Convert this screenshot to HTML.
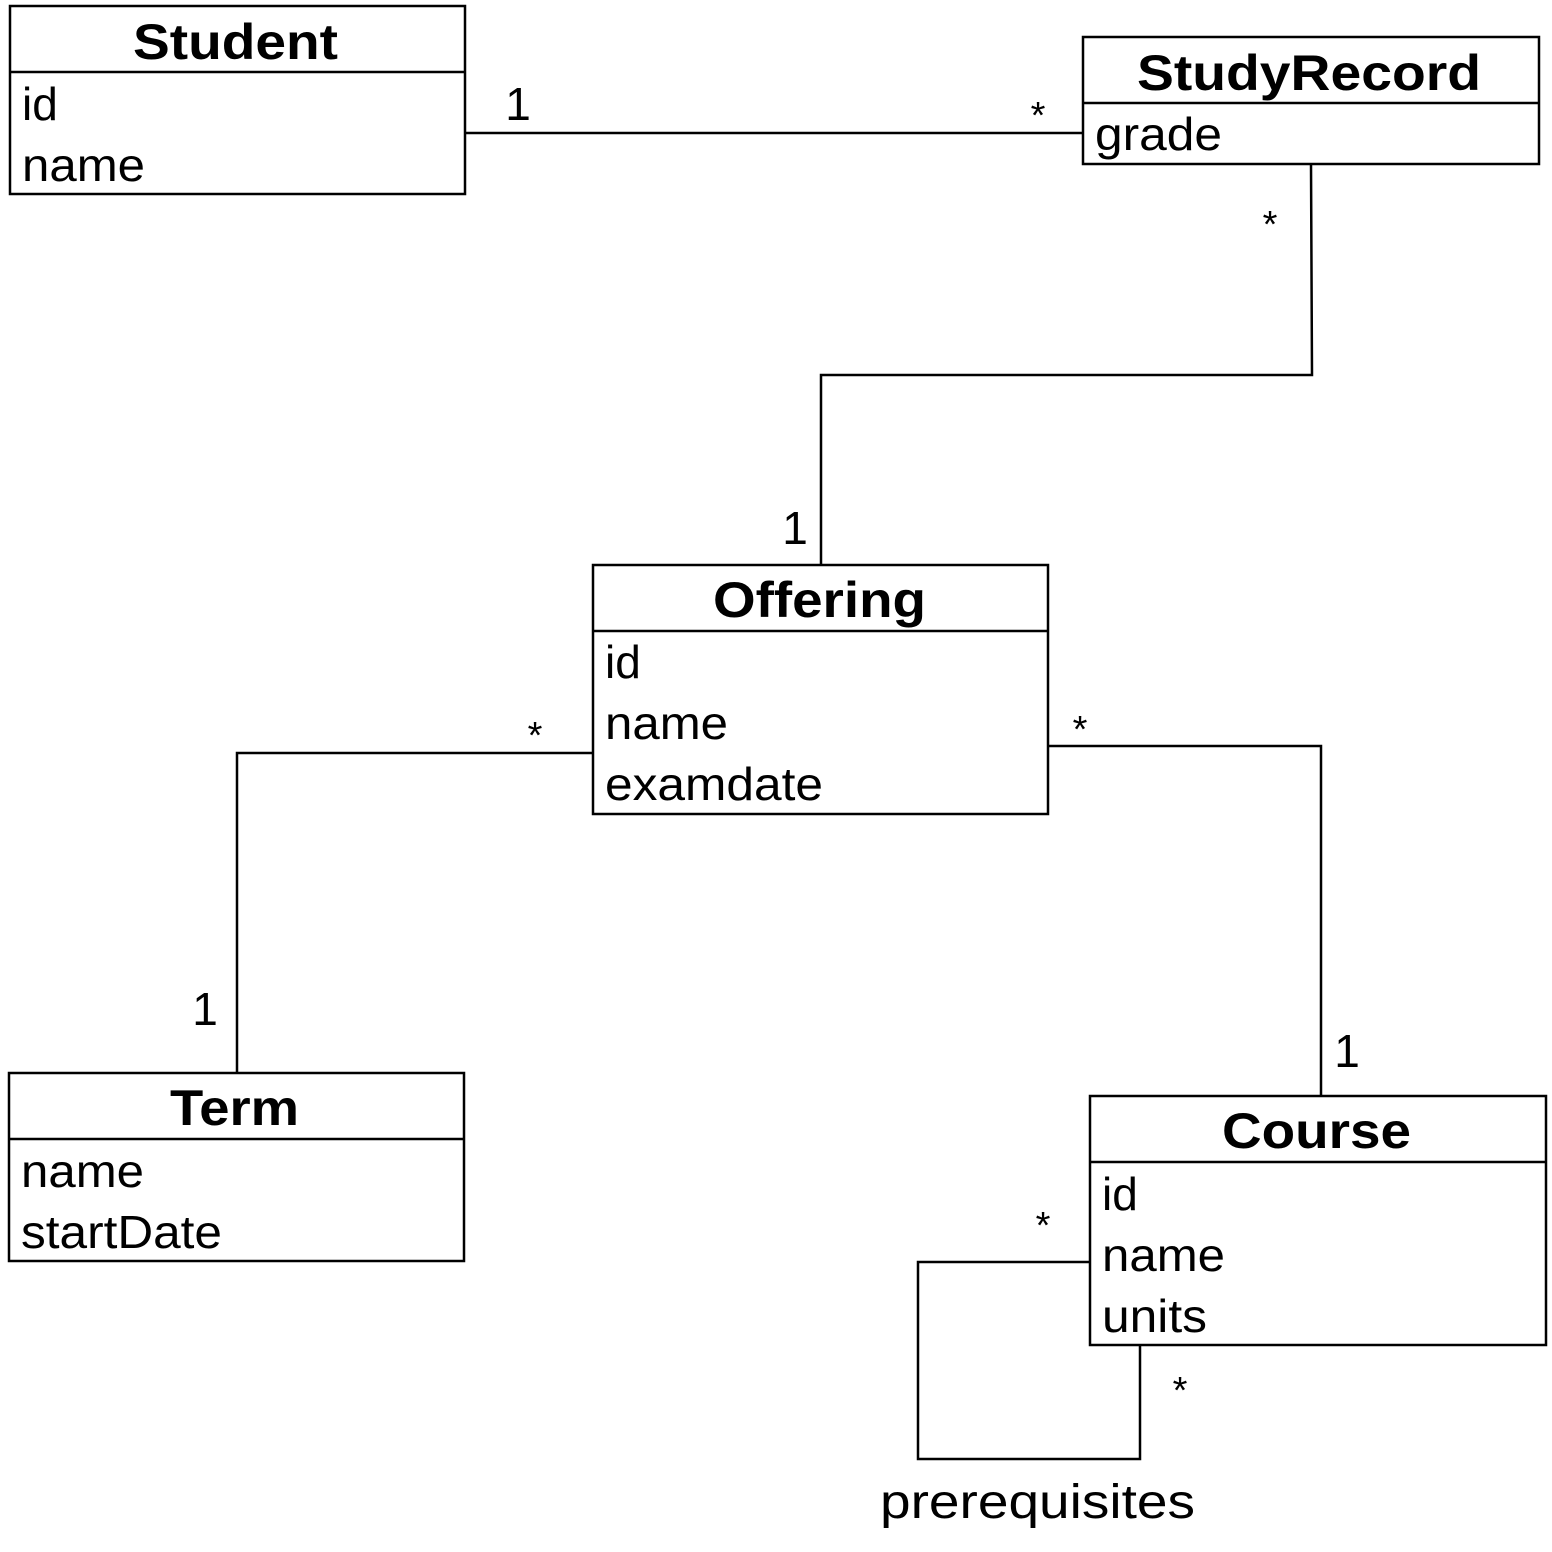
<!DOCTYPE html>
<html><head><meta charset="utf-8"><style>html,body{margin:0;padding:0;background:#fff}svg{display:block}</style></head>
<body>
<svg width="1552" height="1552" viewBox="0 0 1552 1552" xmlns="http://www.w3.org/2000/svg" font-family="'Liberation Sans', Arial, sans-serif">
<g fill="none" stroke="#000" stroke-width="2.5">
<rect x="10" y="6" width="455" height="188"/><line x1="10" y1="72" x2="465" y2="72"/>
<rect x="1083" y="37" width="456" height="127"/><line x1="1083" y1="103" x2="1539" y2="103"/>
<rect x="593" y="565" width="455" height="249"/><line x1="593" y1="631" x2="1048" y2="631"/>
<rect x="9" y="1073" width="455" height="188"/><line x1="9" y1="1139" x2="464" y2="1139"/>
<rect x="1090" y="1096" width="456" height="249"/><line x1="1090" y1="1162" x2="1546" y2="1162"/>
<polyline points="465,133 1083,133"/>
<polyline points="1311,164 1312,375 821,375 821,565"/>
<polyline points="593,753 237,753 237,1073"/>
<polyline points="1048,746 1321,746 1321,1096"/>
<polyline points="1090,1262 918,1262 918,1459 1140,1459 1140,1345"/>
</g>
<g fill="#000" font-size="46">
<g font-weight="bold" font-size="50" lengthAdjust="spacingAndGlyphs">
<text x="133" y="59" textLength="205" lengthAdjust="spacingAndGlyphs">Student</text>
<text x="1137" y="90" textLength="344" lengthAdjust="spacingAndGlyphs">StudyRecord</text>
<text x="713" y="617" textLength="213" lengthAdjust="spacingAndGlyphs">Offering</text>
<text x="170" y="1125" textLength="129" lengthAdjust="spacingAndGlyphs">Term</text>
<text x="1222" y="1148" textLength="189" lengthAdjust="spacingAndGlyphs">Course</text>
</g>
<text x="22" y="120">id</text><text x="22" y="181" textLength="123" lengthAdjust="spacingAndGlyphs">name</text>
<text x="1095" y="150" textLength="127" lengthAdjust="spacingAndGlyphs">grade</text>
<text x="605" y="678">id</text><text x="605" y="739" textLength="123" lengthAdjust="spacingAndGlyphs">name</text><text x="605" y="800" textLength="218" lengthAdjust="spacingAndGlyphs">examdate</text>
<text x="21" y="1187" textLength="123" lengthAdjust="spacingAndGlyphs">name</text><text x="21" y="1248" textLength="201" lengthAdjust="spacingAndGlyphs">startDate</text>
<text x="1102" y="1210">id</text><text x="1102" y="1271" textLength="123" lengthAdjust="spacingAndGlyphs">name</text><text x="1102" y="1332" textLength="105" lengthAdjust="spacingAndGlyphs">units</text>
<g font-size="46" text-anchor="middle">
<text x="518" y="120">1</text><text x="795" y="544">1</text><text x="205" y="1025">1</text><text x="1347" y="1067">1</text>
</g>
<g font-size="38" text-anchor="middle">
<text x="1038" y="128">*</text><text x="1270" y="237">*</text><text x="535" y="748">*</text><text x="1080" y="742">*</text><text x="1043" y="1238">*</text><text x="1180" y="1403">*</text>
</g>
<text x="880" y="1518" font-size="48" textLength="315" lengthAdjust="spacingAndGlyphs">prerequisites</text>
</g>
</svg>
</body></html>
